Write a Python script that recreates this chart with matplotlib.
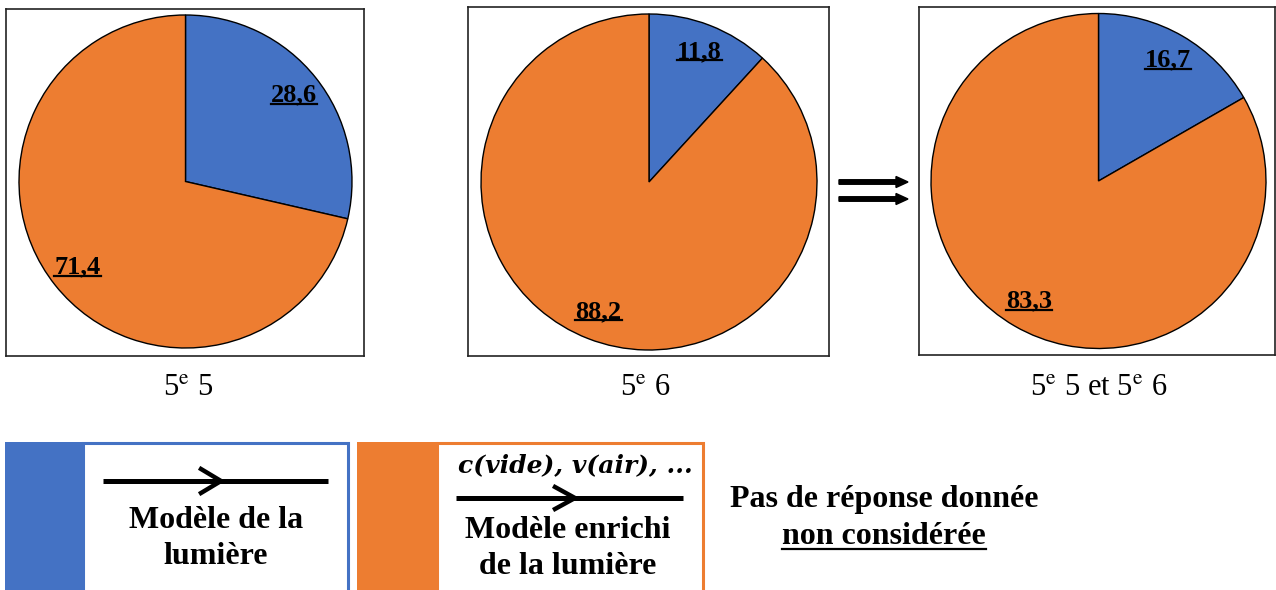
import matplotlib
matplotlib.use("Agg")
import matplotlib.pyplot as plt
from matplotlib.lines import Line2D
from matplotlib.patches import Rectangle
from matplotlib.transforms import IdentityTransform

plt.rcParams['font.family'] = ['Liberation Serif', 'DejaVu Serif']
plt.rcParams['mathtext.fontset'] = 'stix'

# ---- data ----
groups = ["5$^{\\mathrm{e}}$ 5", "5$^{\\mathrm{e}}$ 6", "5$^{\\mathrm{e}}$ 5 et 5$^{\\mathrm{e}}$ 6"]
modele_lumiere = [28.6, 11.8, 16.7]
modele_enrichi = [71.4, 88.2, 83.3]
colors = ["#4472C4", "#ED7D31"]

W, H = 1276, 590
fig = plt.figure(figsize=(W / 100, H / 100), dpi=100)
fig.patch.set_facecolor("white")

# pixel layout: box (left, top, right, bottom), pie center (cx, cy), radius
boxes = [(6, 9, 364, 356, 185.5, 181.5, 166.5),
         (468, 7, 829, 356, 649, 182, 168),
         (919, 7, 1275, 355, 1098.5, 181, 167.5)]
label_pos = [(188, 388), (645, 388), (1099, 388)]

underline_texts = []
for i, (l, t, r, b, cx, cy, rad) in enumerate(boxes):
    ax = fig.add_axes([l / W, 1 - b / H, (r - l) / W, (b - t) / H])
    vals = [modele_lumiere[i], modele_enrichi[i]]
    wedges, texts, autotexts = ax.pie(
        vals, colors=colors, startangle=90, counterclock=False,
        wedgeprops=dict(edgecolor="black", linewidth=1.0),
        autopct=lambda p: f"{p:.1f}".replace(".", ","), pctdistance=0.83,
        textprops=dict(fontsize=19, fontweight="bold", color="black"))
    for at in autotexts:
        at.set_va("baseline")
        xx, yy = at.get_position()
        at.set_position((xx, yy - 0.035))
    ax.set_aspect("auto")
    ax.set_xlim((l - cx) / rad, (r - cx) / rad)
    ax.set_ylim(-(b - cy) / rad, (cy - t) / rad)
    ax.set_frame_on(True)
    for s in ax.spines.values():
        s.set_visible(True)
        s.set_linewidth(1.2)
        s.set_edgecolor("#222222")
    ax.set_xticks([])
    ax.set_yticks([])
    underline_texts.extend(autotexts)

# overlay axes in pixel coordinates
ov = fig.add_axes([0, 0, 1, 1], zorder=-1)
ov.set_xlim(0, W)
ov.set_ylim(H, 0)
ov.axis("off")

for (x, y), g in zip(label_pos, groups):
    ov.text(x, y, g, ha="center", va="center", fontsize=22)

# double arrow between pie 2 and pie 3
for y in (182, 199):
    ov.arrow(839, y, 69, 0, width=4.5, head_width=11, head_length=12,
             length_includes_head=True, color="black")

# legend boxes
ov.add_patch(Rectangle((5, 442), 78, 160, facecolor=colors[0], edgecolor="none"))
ov.add_patch(Rectangle((83, 443), 265, 160, facecolor="white", edgecolor=colors[0], linewidth=2.2))
ov.add_patch(Rectangle((357, 442), 80, 160, facecolor=colors[1], edgecolor="none"))
ov.add_patch(Rectangle((437, 443), 266, 160, facecolor="white", edgecolor=colors[1], linewidth=2.2))

# arrows with open chevrons
ov.plot([103, 328], [481, 481], color="black", lw=3.6, solid_capstyle="butt")
ov.plot([201, 221, 201], [469, 481, 493], color="black", lw=3.2)
ov.plot([456, 683], [498, 498], color="black", lw=3.6, solid_capstyle="butt")
ov.plot([555, 575, 555], [487, 498, 509], color="black", lw=3.2)

ov.text(575, 465, "c(vide), v(air), ...", ha="center", va="center", fontsize=18,
        fontweight="bold", fontstyle="italic", family=["DejaVu Serif"])
bold23 = dict(ha="center", va="center", fontsize=23, fontweight="bold")
ov.text(216, 520, "Modèle de la", **bold23)
ov.text(216, 556, "lumière", **bold23)
ov.text(568, 530, "Modèle enrichi", **bold23)
ov.text(568, 567, "de la lumière", **bold23)
ov.text(884, 500, "Pas de réponse donnée", **bold23)
nc = ov.text(884, 537, "non considérée", **bold23)
underline_texts.append(nc)

# underline texts
fig.canvas.draw()
renderer = fig.canvas.get_renderer()
for t in underline_texts:
    bb = t.get_window_extent(renderer)
    y = bb.y0 + 2.5
    fig.add_artist(Line2D([bb.x0, bb.x1], [y, y], color="black", lw=1.6,
                          transform=IdentityTransform()))

fig.savefig("out.png", dpi=100)
